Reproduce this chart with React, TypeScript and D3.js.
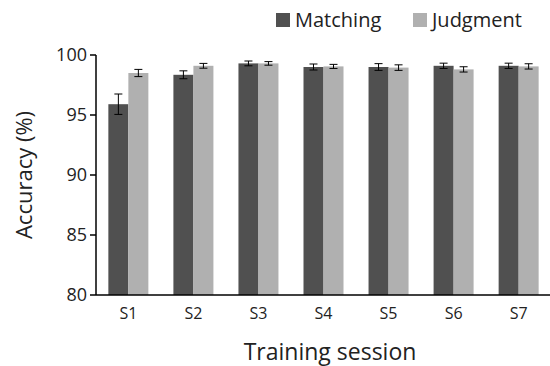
import React from "react";
import * as d3 from "d3";

// data
const sessions = ["S1", "S2", "S3", "S4", "S5", "S6", "S7"];
const seriesNames = ["Matching", "Judgment"];
const matching = [95.9, 98.35, 99.3, 99.0, 99.0, 99.1, 99.1];
const matchingErr = [0.85, 0.33, 0.2, 0.25, 0.28, 0.22, 0.22];
const judgment = [98.5, 99.1, 99.3, 99.05, 98.95, 98.8, 99.05];
const judgmentErr = [0.3, 0.2, 0.15, 0.17, 0.23, 0.22, 0.22];
const yTicks = [80, 85, 90, 95, 100];

const colors = ["#505050", "#b0b0b0"];
const font = "'Open Sans', sans-serif";

const W = 550;
const H = 366;
const left = 96;
const right = 551;
const top = 55;
const bottom = 295;

export default function App() {
  const x = d3.scaleBand<string>().domain(sessions).range([left, right]).paddingInner(0.385).paddingOuter(0.19);
  const x1 = d3.scaleBand<string>().domain(seriesNames).range([0, x.bandwidth()]);
  const y = d3.scaleLinear().domain([80, 100]).range([bottom, top]);

  const series = [
    { name: seriesNames[0], vals: matching, errs: matchingErr, color: colors[0] },
    { name: seriesNames[1], vals: judgment, errs: judgmentErr, color: colors[1] },
  ];

  return (
    <svg width={W} height={H} style={{ position: "absolute", left: 0, top: 0, background: "#fff" }} fontFamily={font}>
      {/* bars + error bars */}
      {series.map((s) =>
        sessions.map((sess, i) => {
          const bx = (x(sess) ?? 0) + (x1(s.name) ?? 0);
          const bw = x1.bandwidth();
          const cx = bx + bw / 2;
          const yHi = y(s.vals[i] + s.errs[i]);
          const yLo = y(s.vals[i] - s.errs[i]);
          return (
            <g key={s.name + sess}>
              <rect x={bx} y={y(s.vals[i])} width={bw} height={bottom - y(s.vals[i])} fill={s.color} />
              <line x1={cx} x2={cx} y1={yHi} y2={yLo} stroke="#000" strokeWidth={1} />
              <line x1={cx - 4} x2={cx + 4} y1={yHi} y2={yHi} stroke="#000" strokeWidth={1} />
              <line x1={cx - 4} x2={cx + 4} y1={yLo} y2={yLo} stroke="#000" strokeWidth={1} />
            </g>
          );
        })
      )}

      {/* y axis */}
      <line x1={left} x2={left} y1={top} y2={bottom} stroke="#000" strokeWidth={1.5} />
      {yTicks.map((t) => (
        <g key={t}>
          <line x1={left - 6} x2={left} y1={y(t)} y2={y(t)} stroke="#000" strokeWidth={1.5} />
          <text x={left - 9} y={y(t)} dy="0.35em" textAnchor="end" fontSize={18} fill="#222">
            {t}
          </text>
        </g>
      ))}
      <text
        transform={`translate(32,${(top + bottom) / 2}) rotate(-90)`}
        textAnchor="middle"
        fontSize={22}
        fill="#222"
      >
        Accuracy (%)
      </text>

      {/* x axis */}
      <line x1={left} x2={right} y1={bottom} y2={bottom} stroke="#000" strokeWidth={1.5} />
      {sessions.map((s) => (
        <text key={s} x={(x(s) ?? 0) + x.bandwidth() / 2} y={319} textAnchor="middle" fontSize={16} fill="#222">
          {s}
        </text>
      ))}
      <text x={330} y={360} textAnchor="middle" fontSize={23} fill="#222">
        Training session
      </text>

      {/* legend */}
      {series.map((s, i) => (
        <g key={s.name} transform={`translate(${[276, 413][i]},0)`}>
          <rect x={0} y={13} width={14} height={14} fill={s.color} />
          <text x={19} y={27} fontSize={20} fill="#222">
            {s.name}
          </text>
        </g>
      ))}
    </svg>
  );
}
